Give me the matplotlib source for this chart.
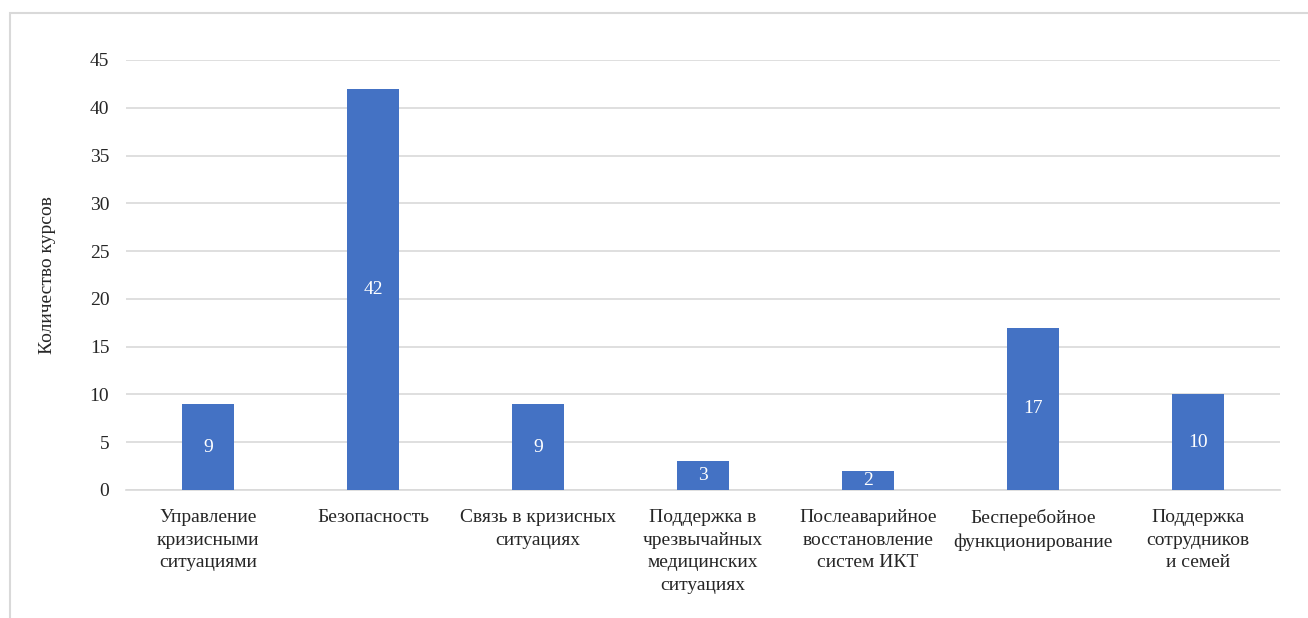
import matplotlib.pyplot as plt
from matplotlib.patches import Rectangle

plt.rcParams['font.family'] = ['Liberation Serif', 'DejaVu Serif']

categories = [
    "Управление\nкризисными\nситуациями",
    "Безопасность",
    "Связь в кризисных\nситуациях",
    "Поддержка в\nчрезвычайных\nмедицинских\nситуациях",
    "Послеаварийное\nвосстановление\nсистем ИКТ",
    "Бесперебойное\nфункционирование",
    "Поддержка\nсотрудников\nи семей",
]
counts = [9, 42, 9, 3, 2, 17, 10]
y_ticks = [0, 5, 10, 15, 20, 25, 30, 35, 40, 45]

bar_color = '#4472C4'
grid_color = '#D9D9D9'
text_color = '#262626'

fig = plt.figure(figsize=(13.08, 6.18), dpi=100)
ax = fig.add_axes([126 / 1308, 1 - 490 / 618, (1280 - 126) / 1308, (490 - 60) / 618])

# outer chart border (only top and left are inside the picture)
fig.patches.append(Rectangle((9.5 / 1308, -0.1), 1.2, 1.1 - 13 / 618,
                             transform=fig.transFigure, fill=False,
                             edgecolor='#D9D9D9', linewidth=1.5))

x = range(len(categories))
bars = ax.bar(x, counts, width=0.315, color=bar_color, zorder=3)

for rect, v in zip(bars, counts):
    ax.text(rect.get_x() + rect.get_width() / 2, v / 2, str(v),
            ha='center', va='center', color='white', fontsize=14, zorder=4)

ax.set_xlim(-0.5, len(categories) - 0.5)
ax.set_ylim(0, 45)
ax.set_yticks(y_ticks)
ax.yaxis.grid(True, color=grid_color, linewidth=1.2, zorder=0)
ax.set_axisbelow(True)
for s in ['top', 'right', 'left']:
    ax.spines[s].set_visible(False)
ax.spines['bottom'].set_color(grid_color)
ax.spines['bottom'].set_linewidth(1.2)
ax.tick_params(axis='both', length=0, labelsize=14, colors=text_color)
ax.tick_params(axis='y', pad=12)
ax.tick_params(axis='x', pad=14)
ax.set_xticks(list(x))
ax.set_xticklabels(categories, linespacing=1.42, va='top')

ax.set_ylabel("Количество курсов", fontsize=14, color=text_color, labelpad=24)

fig.savefig('out.png', dpi=100)
